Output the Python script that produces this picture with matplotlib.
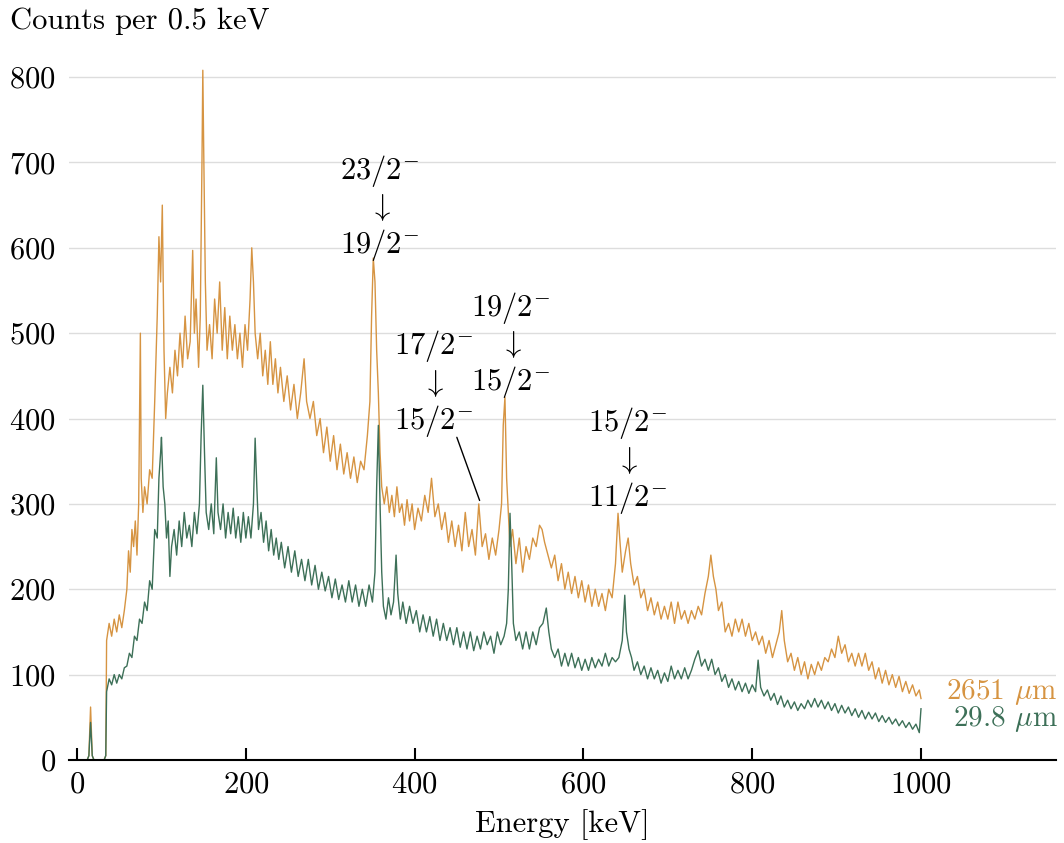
import matplotlib
matplotlib.use('Agg')
import matplotlib.pyplot as plt

plt.rcParams['font.family'] = ['cmr10', 'DejaVu Serif']
plt.rcParams['mathtext.fontset'] = 'cm'
plt.rcParams['axes.formatter.use_mathtext'] = True
plt.rcParams['font.size'] = 22

# spectrum (keV, counts per 0.5 keV)
energy_thick = [0, 12, 14, 16, 18, 20, 32, 34, 35, 38, 41, 44, 47, 50, 53, 56, 59, 61, 63, 65,
                67, 69, 71, 73, 75, 76, 78, 80, 83, 86, 89, 92, 95, 97, 99, 101, 103, 105, 107, 110,
                113, 116, 119, 122, 125, 128, 131, 134, 137, 139, 141, 144, 146, 148, 149, 150, 152, 154, 157, 160,
                163, 166, 169, 172, 175, 178, 181, 184, 187, 190, 193, 196, 199, 202, 205, 207, 209, 211, 214, 217,
                220, 223, 226, 229, 232, 235, 238, 241, 245, 249, 253, 257, 261, 265, 269, 272, 276, 280, 284, 288,
                292, 296, 300, 304, 308, 312, 316, 320, 324, 328, 332, 336, 340, 344, 347, 349, 351, 353, 355, 357,
                359, 361, 364, 367, 370, 373, 376, 379, 382, 385, 388, 391, 394, 397, 400, 404, 408, 412, 416, 420,
                424, 428, 432, 436, 440, 444, 448, 452, 456, 460, 464, 468, 472, 476, 480, 484, 488, 492, 496, 500,
                503, 505, 507, 509, 511, 513, 516, 520, 524, 528, 532, 536, 540, 544, 548, 551, 554, 558, 562, 566,
                570, 574, 578, 582, 586, 590, 594, 598, 602, 606, 610, 614, 618, 622, 626, 630, 634, 638, 641, 643,
                646, 650, 653, 656, 660, 664, 668, 672, 676, 680, 684, 688, 692, 696, 700, 704, 708, 712, 716, 720,
                724, 728, 732, 736, 740, 744, 748, 751, 754, 757, 760, 764, 768, 772, 776, 780, 784, 788, 792, 796,
                800, 804, 808, 812, 816, 820, 824, 828, 832, 835, 838, 842, 846, 850, 854, 858, 862, 866, 870, 874,
                878, 882, 886, 890, 894, 898, 902, 906, 910, 914, 918, 922, 926, 930, 934, 938, 942, 946, 950, 954,
                958, 962, 966, 970, 974, 978, 982, 986, 990, 994, 998, 1000]
counts_thick = [0, 0, 5, 62, 5, 0, 0, 5, 140, 160, 145, 165, 150, 170, 155, 175, 200, 245, 220, 270,
                250, 280, 240, 300, 500, 330, 290, 320, 300, 340, 330, 420, 520, 613, 560, 650, 480, 400, 430, 460,
                430, 480, 450, 500, 460, 520, 470, 490, 597, 500, 540, 460, 520, 700, 808, 720, 560, 480, 510, 470,
                540, 500, 560, 480, 530, 470, 520, 480, 510, 470, 500, 460, 510, 480, 540, 600, 560, 500, 470, 500,
                450, 480, 440, 490, 440, 470, 430, 460, 420, 450, 410, 440, 400, 430, 470, 420, 400, 420, 380, 400,
                360, 390, 350, 380, 340, 370, 335, 360, 330, 355, 325, 350, 340, 380, 420, 520, 588, 560, 480, 430,
                360, 320, 300, 320, 290, 310, 285, 320, 290, 300, 275, 305, 280, 300, 270, 295, 280, 310, 290, 330,
                285, 300, 270, 290, 255, 280, 250, 275, 245, 290, 250, 270, 240, 300, 250, 265, 235, 260, 240, 270,
                300, 392, 425, 330, 290, 250, 270, 230, 260, 220, 250, 235, 260, 250, 275, 270, 255, 240, 225, 240,
                210, 230, 200, 220, 195, 215, 190, 210, 185, 205, 180, 200, 180, 195, 175, 200, 190, 230, 289, 260,
                220, 245, 260, 230, 205, 215, 190, 200, 175, 190, 170, 185, 165, 180, 165, 185, 160, 185, 165, 175,
                160, 175, 165, 180, 170, 195, 215, 240, 215, 200, 175, 185, 150, 160, 145, 165, 150, 165, 145, 160,
                140, 150, 135, 145, 125, 140, 120, 135, 150, 175, 140, 115, 125, 105, 120, 100, 115, 95, 112, 100,
                115, 105, 120, 115, 130, 120, 145, 125, 135, 115, 125, 110, 125, 110, 125, 105, 115, 95, 108, 90,
                105, 88, 100, 85, 98, 80, 92, 78, 88, 75, 82, 72]

energy_thin = [0, 12, 14, 16, 18, 20, 32, 34, 35, 38, 41, 44, 47, 50, 53, 56, 59, 62, 65, 68,
               71, 74, 77, 80, 83, 86, 89, 92, 95, 97, 99, 100, 102, 104, 106, 108, 110, 112, 115, 118,
               121, 124, 127, 130, 133, 136, 139, 142, 145, 147, 149, 151, 153, 156, 159, 162, 165, 167, 170, 173,
               176, 179, 182, 185, 188, 191, 194, 197, 200, 203, 206, 209, 211, 213, 215, 218, 221, 224, 227, 230,
               233, 236, 239, 242, 246, 250, 254, 258, 262, 266, 270, 274, 278, 282, 286, 290, 294, 298, 302, 306,
               310, 314, 318, 322, 326, 330, 334, 338, 342, 346, 350, 353, 355, 357, 359, 361, 363, 366, 369, 372,
               375, 378, 380, 383, 386, 390, 394, 398, 402, 406, 410, 414, 418, 422, 426, 430, 434, 438, 442, 446,
               450, 454, 458, 462, 466, 470, 474, 478, 482, 486, 490, 494, 498, 502, 506, 509, 511, 513, 515, 517,
               520, 524, 528, 532, 536, 540, 544, 548, 552, 556, 559, 562, 566, 570, 574, 578, 582, 586, 590, 594,
               598, 602, 606, 610, 614, 618, 622, 626, 630, 634, 638, 642, 646, 649, 651, 654, 657, 660, 664, 668,
               672, 676, 680, 684, 688, 692, 696, 700, 704, 708, 712, 716, 720, 724, 728, 732, 736, 740, 744, 748,
               752, 756, 760, 764, 768, 772, 776, 780, 784, 788, 792, 796, 800, 804, 807, 810, 814, 818, 822, 826,
               830, 834, 838, 842, 846, 850, 854, 858, 862, 866, 870, 874, 878, 882, 886, 890, 894, 898, 902, 906,
               910, 914, 918, 922, 926, 930, 934, 938, 942, 946, 950, 954, 958, 962, 966, 970, 974, 978, 982, 986,
               990, 994, 998, 1000]
counts_thin = [0, 0, 5, 44, 5, 0, 0, 5, 80, 95, 88, 100, 90, 100, 95, 108, 110, 125, 120, 145,
               140, 165, 160, 185, 175, 210, 200, 270, 260, 330, 360, 378, 320, 300, 260, 280, 215, 250, 270, 240,
               280, 250, 290, 260, 275, 250, 290, 265, 300, 380, 439, 360, 290, 270, 300, 265, 354, 290, 270, 300,
               260, 290, 265, 295, 260, 285, 255, 290, 260, 285, 260, 300, 377, 320, 270, 290, 255, 280, 245, 270,
               240, 260, 235, 255, 225, 250, 220, 245, 215, 235, 210, 235, 205, 228, 200, 220, 198, 215, 190, 212,
               188, 205, 185, 210, 185, 205, 180, 200, 180, 205, 185, 220, 320, 392, 300, 220, 180, 165, 190, 170,
               185, 240, 195, 165, 185, 160, 180, 160, 175, 150, 170, 150, 168, 145, 165, 140, 160, 140, 155, 135,
               155, 132, 150, 130, 150, 128, 145, 130, 150, 135, 145, 125, 150, 135, 145, 160, 200, 289, 230, 160,
               140, 150, 130, 150, 130, 150, 135, 155, 160, 178, 150, 130, 120, 130, 110, 125, 110, 125, 108, 120,
               105, 118, 105, 120, 108, 118, 110, 125, 110, 120, 115, 120, 140, 193, 150, 130, 120, 105, 115, 100,
               110, 95, 108, 95, 105, 90, 102, 92, 110, 95, 105, 95, 108, 95, 105, 118, 128, 110, 118, 105,
               118, 100, 108, 92, 100, 85, 95, 82, 92, 80, 90, 78, 88, 80, 117, 85, 75, 82, 70, 78,
               65, 75, 62, 70, 60, 68, 58, 66, 60, 70, 62, 72, 62, 70, 60, 68, 58, 66, 55, 64,
               55, 62, 52, 60, 50, 58, 48, 56, 48, 55, 45, 52, 44, 50, 42, 48, 40, 46, 38, 44,
               36, 42, 32, 60]

series_labels = [r'2651 $\mu$m', r'29.8 $\mu$m']
series_colors = ['#d69442', '#3d7058']

# transitions: upper level, lower level, label centre (keV, counts)
trans_upper = ['23/2', '17/2', '19/2', '15/2']
trans_lower = ['19/2', '15/2', '15/2', '11/2']
trans_pos = [(359, 647), (422, 441), (514, 486), (652, 351)]
# the one leader line, from below the 17/2 label down to the peak
leader_start = (450, 378)
leader_end = (477, 304)

fig = plt.figure(figsize=(10.64, 8.43), dpi=100)
ax = fig.add_axes([0.0645, 0.0985, 0.928, 0.8303])

ax.plot(energy_thick, counts_thick, color=series_colors[0], lw=1.0)
ax.plot(energy_thin, counts_thin, color=series_colors[1], lw=1.0)

ax.set_xlim(-10, 1160)
ax.set_ylim(0, 820)
ax.set_xticks([0, 200, 400, 600, 800, 1000])
ax.set_yticks([0, 100, 200, 300, 400, 500, 600, 700, 800])
ax.grid(axis='y', color='#dddddd', lw=1.0)
ax.set_axisbelow(True)
for s in ['top', 'right', 'left']:
    ax.spines[s].set_visible(False)
ax.spines['bottom'].set_linewidth(1.5)
ax.tick_params(axis='x', direction='in', length=9, width=1.5, pad=8)
ax.tick_params(axis='y', length=0, pad=9)
ax.set_xlabel('Energy [keV]', labelpad=8)
fig.text(0.0094, 0.975, 'Counts per 0.5 keV', ha='left', va='center')

ax.text(1162, 80, series_labels[0], color=series_colors[0], ha='right', va='center', fontsize=21)
ax.text(1162, 48, series_labels[1], color=series_colors[1], ha='right', va='center', fontsize=21)

for up, low, pos in zip(trans_upper, trans_lower, trans_pos):
    txt = '$%s^{-}$\n$\\downarrow$\n$%s^{-}$' % (up, low)
    ax.text(pos[0], pos[1], txt, ha='center', va='center', multialignment='center',
            linespacing=1.15)
ax.annotate('', xy=leader_end, xytext=leader_start,
            arrowprops=dict(arrowstyle='-', color='black', lw=1.0, shrinkA=0, shrinkB=0))

fig.savefig('out.png', dpi=100)
